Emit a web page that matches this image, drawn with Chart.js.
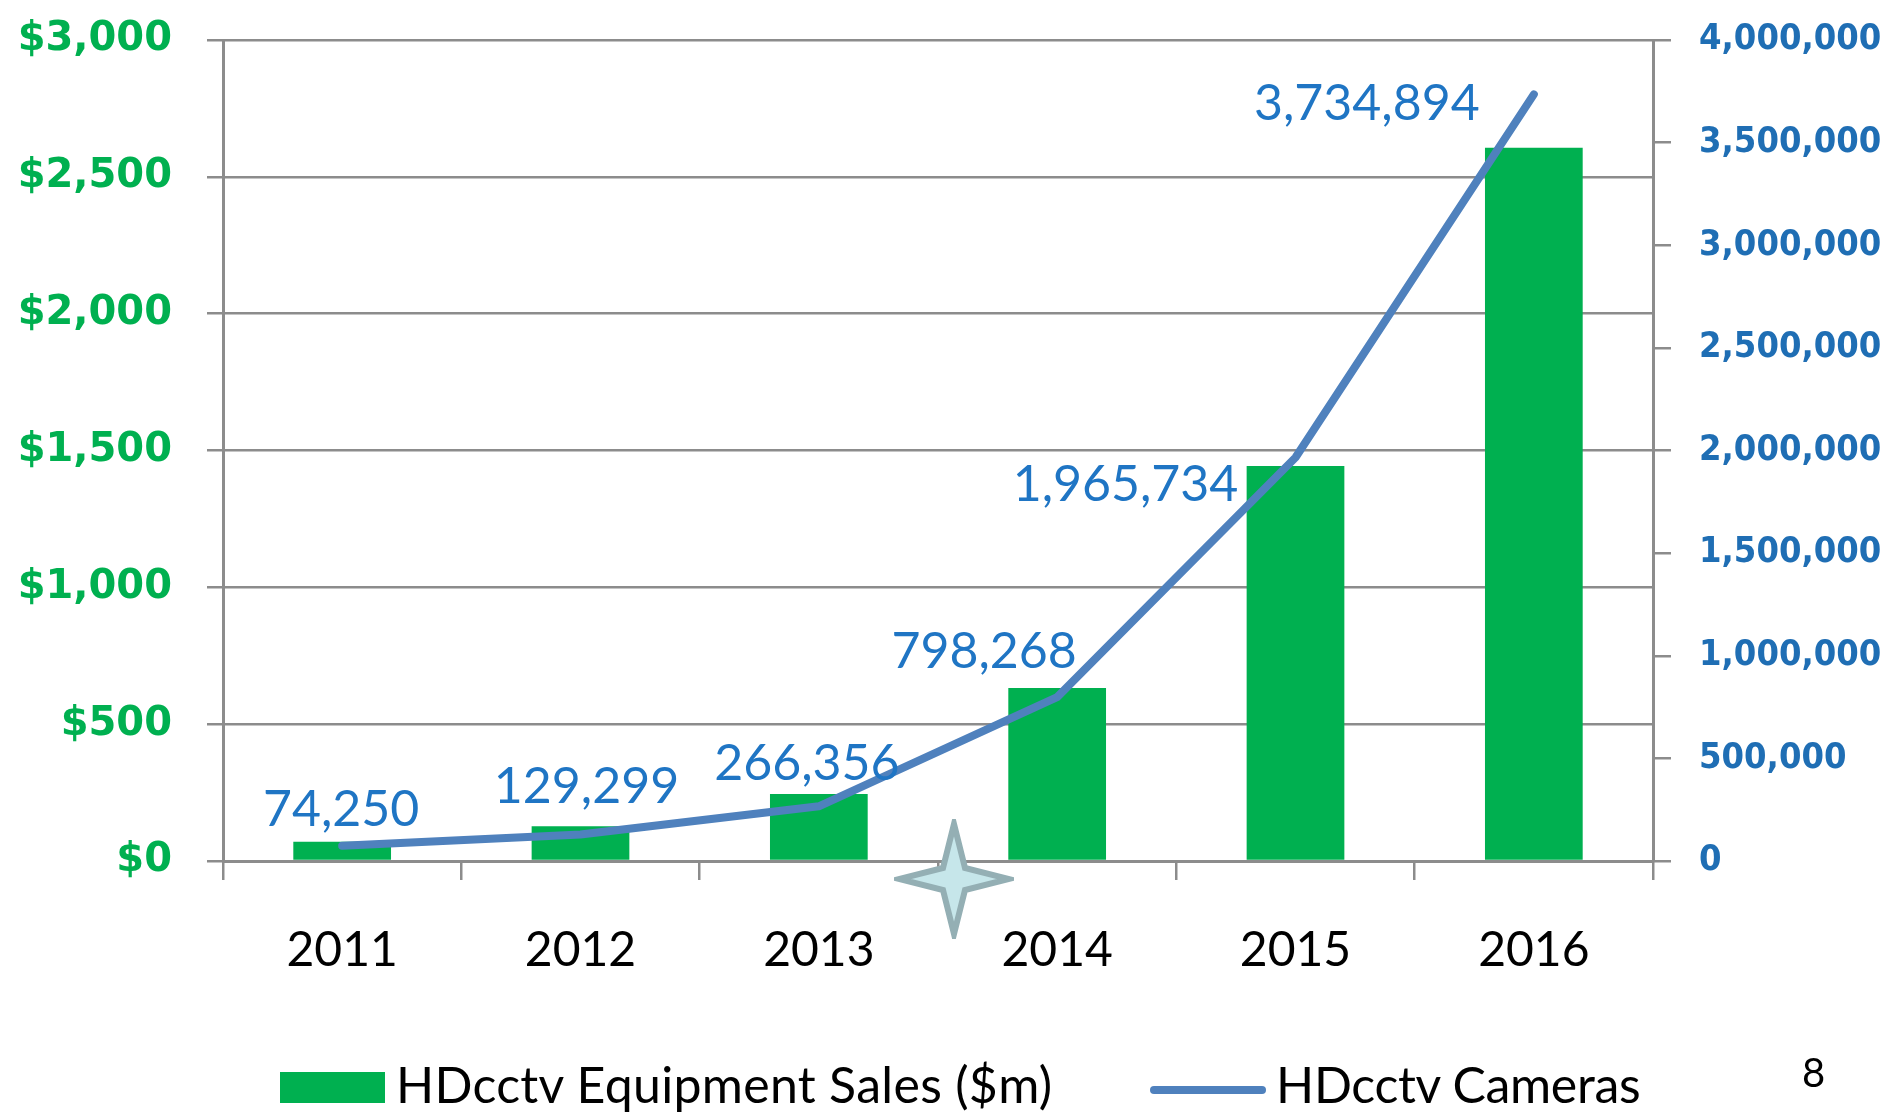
<!DOCTYPE html>
<html>
<head>
<meta charset="utf-8">
<title>HDcctv sales and cameras</title>
<script src="https://cdn.jsdelivr.net/npm/chart.js@4.4.1/dist/chart.umd.min.js"></script>
<style>
    html, body { margin: 0; padding: 0; background: #fff; }
    #wrap { position: relative; width: 1888px; height: 1113px; overflow: hidden; }
    #chart { position: absolute; left: 0; top: 0; }
    .legend-box { position: absolute; left: 280px; top: 1072px; width: 105px; height: 31px; background: #00B050; }
    .legend-line { position: absolute; left: 1150px; top: 1086px; width: 116px; height: 8px; border-radius: 4px; background: #4F81BD; }
    .legend-text { position: absolute; font-family: Lato, sans-serif; font-size: 50px; line-height: 50px; color: #000; white-space: nowrap; }
    #page-num { position: absolute; left: 1802px; top: 1052px; font-family: Lato, sans-serif; font-size: 40px; line-height: 40px; color: #000; }
    #star { position: absolute; left: 894px; top: 819px; }
</style>
</head>
<body>
<div id="wrap">
    <canvas id="chart" width="1888" height="1113"></canvas>
    <div class="legend-box"></div>
    <div class="legend-text" id="legend-sales" style="left: 396px; top: 1059px; letter-spacing: 0.3px;"></div>
    <div class="legend-line"></div>
    <div class="legend-text" id="legend-cameras" style="left: 1276px; top: 1059px; letter-spacing: -0.3px;"></div>
    <div id="page-num">8</div>
    <svg id="star" width="120" height="120" viewBox="-60 -60 120 120">
        <path d="M0,-55 L11,-11 L55,0 L11,11 L0,55 L-11,11 L-55,0 L-11,-11 Z"
              fill="#C6E6EA" stroke="#94AFB4" stroke-width="6" stroke-linejoin="miter" stroke-miterlimit="10"/>
    </svg>
</div>
<script>
// chart data
const years = ['2011', '2012', '2013', '2014', '2015', '2016'];
const salesValues = [70, 127, 245, 632, 1443, 2606];          // $m, left axis
const cameraValues = [74250, 129299, 266356, 798268, 1965734, 3734894];  // units, right axis
const salesTicks = [0, 500, 1000, 1500, 2000, 2500, 3000];
const cameraTicks = [0, 500000, 1000000, 1500000, 2000000, 2500000, 3000000, 3500000, 4000000];
const salesLabel = 'HDcctv Equipment Sales ($m)';
const camerasLabel = 'HDcctv Cameras';

const GRID = '#8C8C8C';
const fmt = v => Number(v).toLocaleString('en-US');

// value labels next to the line points (offsets from each point, baseline)
const labelShift = [[-1, -20], [6, -31], [-12, -26], [-73, -29], [-170, 43], [-167, 26]];

const cameraLabels = {
    id: 'cameraLabels',
    afterDatasetsDraw(chart) {
        const meta = chart.getDatasetMeta(1);
        const { ctx } = chart;
        ctx.save();
        ctx.font = '50px Lato';
        ctx.fillStyle = '#1F75C4';
        ctx.textAlign = 'center';
        ctx.textBaseline = 'alphabetic';
        meta.data.forEach((pt, i) => {
            const [dx, dy] = labelShift[i];
            ctx.fillText(fmt(cameraValues[i]), pt.x + dx, pt.y + dy);
        });
        ctx.restore();
    }
};

// fixed axis widths; drop the label overhang padding so the plot top sits at 40px
function fitY(width) {
    return s => {
        s.width = width;
        s.paddingTop = 0;
        s.paddingBottom = 0;
    };
}

function drawChart() {
    document.getElementById('legend-sales').textContent = salesLabel;
    document.getElementById('legend-cameras').textContent = camerasLabel;

    const ctx = document.getElementById('chart').getContext('2d');
    new Chart(ctx, {
        type: 'bar',
        data: {
            labels: years,
            datasets: [
                {
                    label: salesLabel,
                    data: salesValues,
                    backgroundColor: '#00B050',
                    yAxisID: 'y',
                    barPercentage: 0.41,
                    categoryPercentage: 1.0,
                    order: 2
                },
                {
                    type: 'line',
                    label: camerasLabel,
                    data: cameraValues,
                    borderColor: '#4F81BD',
                    borderWidth: 8,
                    borderCapStyle: 'round',
                    borderJoinStyle: 'round',
                    pointRadius: 0,
                    tension: 0,
                    yAxisID: 'y1',
                    order: 1
                }
            ]
        },
        options: {
            responsive: false,
            animation: false,
            layout: { padding: { top: 40, left: 0, right: 0, bottom: 0 } },
            plugins: {
                legend: { display: false },
                tooltip: { enabled: false }
            },
            scales: {
                x: {
                    grid: { offset: true, drawOnChartArea: false, color: GRID, lineWidth: 2.5, tickLength: 19 },
                    border: { color: GRID, width: 3 },
                    ticks: { color: '#000', font: { family: 'Lato', size: 48 }, padding: 42 },
                    afterFit: s => { s.height = 252; }
                },
                y: {
                    position: 'left',
                    min: 0,
                    max: 3000,
                    afterBuildTicks: s => { s.ticks = salesTicks.map(v => ({ value: v })); },
                    grid: { color: GRID, lineWidth: 2.5, tickLength: 16 },
                    border: { color: GRID, width: 3 },
                    ticks: {
                        color: '#00B050',
                        font: { family: "'DejaVu Sans'", size: 40, weight: 'bold' },
                        padding: 35,
                        callback: v => '$' + fmt(v)
                    },
                    afterFit: fitY(223)
                },
                y1: {
                    position: 'right',
                    min: 0,
                    max: 4000000,
                    afterBuildTicks: s => { s.ticks = cameraTicks.map(v => ({ value: v })); },
                    grid: { drawOnChartArea: false, color: GRID, lineWidth: 2.5, tickLength: 18 },
                    border: { color: GRID, width: 3 },
                    ticks: {
                        color: '#1F6EB4',
                        font: { family: "'DejaVu Sans Condensed', 'DejaVu Sans'", size: 36, weight: 'bold' },
                        padding: 28,
                        callback: v => fmt(v)
                    },
                    afterFit: fitY(235)
                }
            }
        },
        plugins: [cameraLabels]
    });
}

Promise.all([
    document.fonts.load('48px Lato'),
    document.fonts.load("bold 40px 'DejaVu Sans'"),
    document.fonts.load("bold 36px 'DejaVu Sans Condensed'")
]).catch(() => {}).then(drawChart);
</script>
</body>
</html>
